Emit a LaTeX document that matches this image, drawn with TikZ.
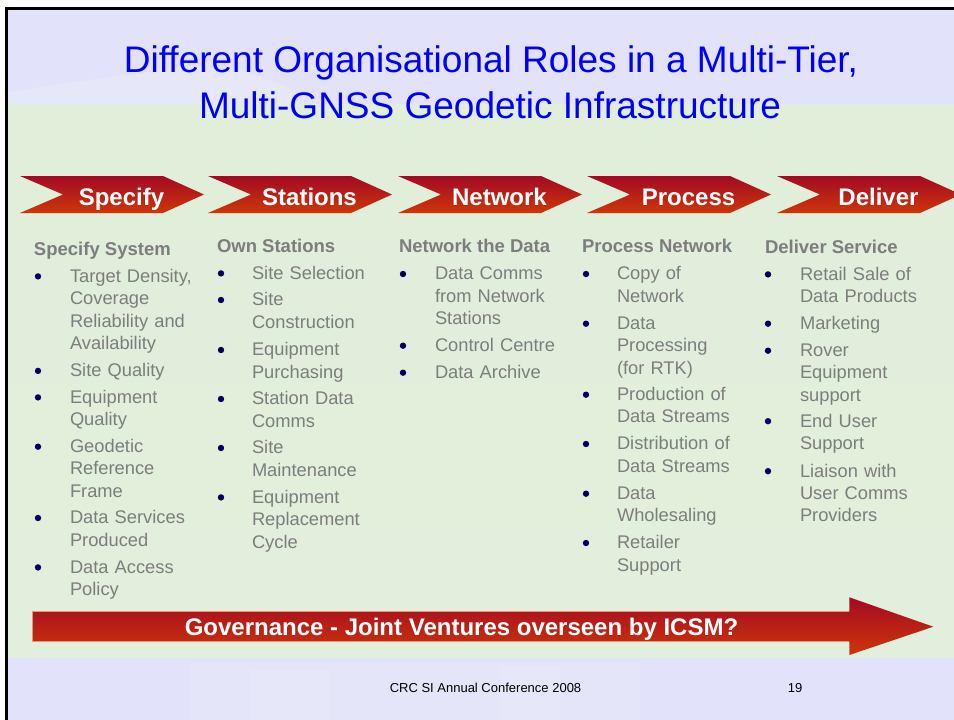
\documentclass[tikz,border=0pt]{standalone}
\usepackage{fontspec}
\setmainfont{Liberation Sans}
\definecolor{titleblue}{RGB}{0,0,250}
\definecolor{chevtop}{RGB}{163,10,36}
\definecolor{chevbot}{RGB}{206,54,8}
\definecolor{textgray}{RGB}{125,125,125}
\definecolor{bulletblue}{RGB}{0,0,100}
\definecolor{lavender}{RGB}{226,226,250}
\definecolor{greentop}{RGB}{224,238,218}
\definecolor{greenmid}{RGB}{192,220,176}
\definecolor{greenbot}{RGB}{226,239,220}
\definecolor{arrowedge}{RGB}{226,150,118}
\begin{document}
\begin{tikzpicture}[x=1pt,y=-1pt,
  every node/.style={inner sep=0pt,outer sep=0pt},
  slidetitle/.style={text=titleblue,font=\fontsize{37}{45}\selectfont,anchor=base},
  chevron/.style={top color=chevtop,bottom color=chevbot,draw=none},
  chevlabel/.style={text=white,font=\fontsize{24}{28}\selectfont\bfseries,anchor=base},
  colhead/.style={text=textgray,font=\fontsize{18.5}{22}\selectfont\bfseries,anchor=base west},
  item/.style={text=textgray,font=\fontsize{18.3}{22.4}\selectfont,anchor=base west,text width=170pt,align=left},
  dot/.style={circle,fill=bulletblue,minimum size=6.4pt},
  footer/.style={text=black,font=\fontsize{13}{15}\selectfont,anchor=base},
]
\useasboundingbox (0,0) rectangle (954,720);
\clip (0,0) rectangle (954,720);

% slide background bands
\fill[white] (0,0) rectangle (954,720);
\fill[lavender] (6.5,8) rectangle (954,104);
\shade[top color=greentop,middle color=greenmid,bottom color=greenbot] (6.5,104) rectangle (954,658);
\fill[lavender] (6.5,658) rectangle (954,720);
% faint photo traces
\fill[white,opacity=0.18] (8,104) -- (8,92) -- (60,84) -- (130,74) -- (190,66) -- (240,70) -- (290,88) -- (300,104) -- cycle;
\fill[white,opacity=0.12] (190,662) rectangle (640,720);
\fill[white,opacity=0.1] (250,670) rectangle (330,720);
\fill[white,opacity=0.1] (500,666) rectangle (560,720);
% frame
\draw[black,line width=3pt] (6.5,720) -- (6.5,8) -- (954,8);

% title
\node[slidetitle] (t1) at (491,72.7) {Different Organisational Roles in a Multi-Tier,};
\node[slidetitle] (t2) at (490,118) {Multi-GNSS Geodetic Infrastructure};

% process chevrons
\foreach \L/\nm/\txt in {20/c1/Specify,208/c2/Stations,398/c3/Network,587/c4/Process,777/c5/Deliver}{
  \path[chevron] (\L,176) -- ++(143,0) -- ++(41,18.5) -- ++(-41,18.5) -- ++(-143,0) -- ++(43,-18.5) -- cycle;
  \node[chevlabel] (\nm) at (\L+101.5,205) {\txt};
}

% column headings
\node[colhead] (h1) at (34,255) {Specify System};
\node[colhead] (h2) at (217,252) {Own Stations};
\node[colhead] (h3) at (399,252.5) {Network the Data};
\node[colhead] (h4) at (582,252.5) {Process Network};
\node[colhead] (h5) at (765,253) {Deliver Service};

% column 1
\foreach \y/\nm/\txt in {
  282.2/a1/{Target Density,\\Coverage\\Reliability and\\Availability},
  376.7/a2/{Site Quality},
  403.2/a3/{Equipment\\Quality},
  452.5/a4/{Geodetic\\Reference\\Frame},
  523.8/a5/{Data Services\\Produced},
  573.2/a6/{Data Access\\Policy}}{
  \node[dot] (\nm d) at (38,\y-5.8) {};
  \node[item] (\nm) at (70,\y) {\txt};
}
% column 2
\foreach \y/\nm/\txt in {
  279.2/b1/{Site Selection},
  305.8/b2/{Site\\Construction},
  355.8/b3/{Equipment\\Purchasing},
  404.8/b4/{Station Data\\Comms},
  453.8/b5/{Site\\Maintenance},
  503.2/b6/{Equipment\\Replacement\\Cycle}}{
  \node[dot] (\nm d) at (221,\y-5.8) {};
  \node[item] (\nm) at (252,\y) {\txt};
}
% column 3
\foreach \y/\nm/\txt in {
  279.8/n1/{Data Comms\\from Network\\Stations},
  351.5/n2/{Control Centre},
  378.5/n3/{Data Archive}}{
  \node[dot] (\nm d) at (403,\y-5.8) {};
  \node[item] (\nm) at (435,\y) {\txt};
}
% column 4
\foreach \y/\nm/\txt in {
  279.8/p1/{Copy of\\Network},
  329.5/p2/{Data\\Processing\\(for RTK)},
  400.5/p3/{Production of\\Data Streams},
  449.8/p4/{Distribution of\\Data Streams},
  499.5/p5/{Data\\Wholesaling},
  548.8/p6/{Retailer\\Support}}{
  \node[dot] (\nm d) at (586,\y-5.8) {};
  \node[item] (\nm) at (617,\y) {\txt};
}
% column 5
\foreach \y/\nm/\txt in {
  280.2/d1/{Retail Sale of\\Data Products},
  329.5/d2/{Marketing},
  356.5/d3/{Rover\\Equipment\\support},
  427.0/d4/{End User\\Support},
  477.0/d5/{Liaison with\\User Comms\\Providers}}{
  \node[dot] (\nm d) at (768,\y-5.8) {};
  \node[item] (\nm) at (800,\y) {\txt};
}

% governance arrow
\path[top color=chevtop,bottom color=chevbot] (32,611.7) -- (849.3,611.7) -- (849.3,597.3) -- (933.3,626.7) -- (849.3,655) -- (849.3,641.7) -- (32,641.7) -- cycle;
\draw[arrowedge,line width=0.8pt] (849.3,611.7) -- (32,611.7) -- (32,641.7) -- (849.3,641.7);
\node[chevlabel] (gov) at (461.5,635) {Governance - Joint Ventures overseen by ICSM?};

% footer
\node[footer] (conf) at (485.5,692) {CRC SI Annual Conference 2008};
\node[footer] (page) at (795,692) {19};
\end{tikzpicture}
\end{document}
